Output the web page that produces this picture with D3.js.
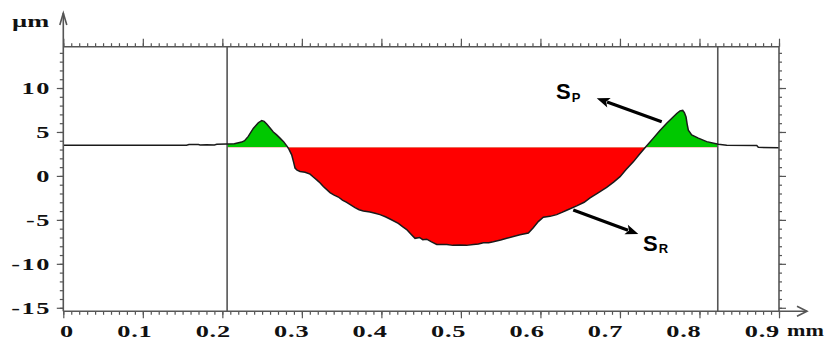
<!DOCTYPE html>
<html><head><meta charset="utf-8">
<script src="https://cdn.jsdelivr.net/npm/d3@7"></script>
<style>body{margin:0;background:#fff;overflow:hidden}</style>
</head><body>
<svg id="c" width="829" height="340"></svg>
<script>
// ---- data ----
const profileX = [0,0.05,0.10,0.155,0.158,0.17,0.172,0.18,0.19,0.193,0.2055,0.215,0.2243,0.228,0.2326,0.2389,0.2452,0.2495,0.2525,0.2558,0.26,0.2641,0.268,0.2725,0.277,0.2817,0.284,0.2872,0.2895,0.2914,0.294,0.2977,0.304,0.3103,0.314,0.3187,0.323,0.327,0.3354,0.34,0.3459,0.351,0.3564,0.3668,0.372,0.3773,0.3857,0.392,0.3983,0.405,0.4108,0.4213,0.427,0.4318,0.437,0.4423,0.448,0.452,0.457,0.463,0.4696,0.4822,0.49,0.4989,0.507,0.5156,0.522,0.5282,0.535,0.5407,0.55,0.5576,0.566,0.5743,0.5848,0.591,0.5973,0.6036,0.612,0.6205,0.627,0.633,0.6456,0.655,0.6624,0.672,0.6833,0.692,0.7001,0.708,0.7168,0.724,0.7315,0.742,0.75,0.7588,0.7714,0.7755,0.7789,0.781,0.7831,0.7845,0.786,0.7902,0.7986,0.8091,0.8237,0.8343,0.872,0.874,0.9];
const profileY = [3.5,3.5,3.5,3.5,3.58,3.58,3.52,3.55,3.52,3.6,3.62,3.65,3.85,4.0,4.5,5.4,6.05,6.3,6.2,5.9,5.45,5.0,4.7,4.3,3.9,3.33,3.0,2.4,1.6,0.9,0.65,0.5,0.42,0.2,-0.1,-0.45,-0.8,-1.2,-1.9,-2.15,-2.4,-2.75,-3.0,-3.6,-3.85,-4.0,-4.1,-4.25,-4.4,-4.65,-4.9,-5.4,-5.8,-6.1,-6.6,-7.1,-7.0,-7.25,-7.2,-7.5,-7.8,-7.8,-7.9,-7.85,-7.9,-7.8,-7.75,-7.6,-7.6,-7.5,-7.3,-7.1,-6.9,-6.7,-6.5,-5.9,-5.2,-4.7,-4.6,-4.4,-4.15,-3.9,-3.4,-3.0,-2.5,-1.95,-1.3,-0.7,-0.08,0.75,1.6,2.4,3.2,4.3,5.15,6.0,7.1,7.4,7.45,7.2,6.7,5.9,5.2,4.66,4.3,3.9,3.6,3.5,3.45,3.25,3.2];
const baseline = 3.25;
const cursorX = [0.206, 0.823];
const xTickValues = [0,0.1,0.2,0.3,0.4,0.5,0.6,0.7,0.8,0.9];
const xTickLabels = ["0","0.1","0.2","0.3","0.4","0.5","0.6","0.7","0.8","0.9"];
const yTickValues = [-15,-10,-5,0,5,10];
const yTickLabels = ["-15","-10","-5","0","5","10"];
const xUnit = "mm", yUnit = "\u00b5m";
const labelSP = ["S","P"], labelSR = ["S","R"];

// ---- scales ----
const svg = d3.select("#c");
const x = d3.scaleLinear().domain([0,0.9]).range([63.3,779]);
const y = d3.scaleLinear().domain([-15.4,14.7]).range([311.3,46.7]);
const xLab = d3.scaleLinear().domain([0,0.9]).range([74,780]);
const data = profileX.map((v,i)=>({x:v,y:profileY[i]}));

const defs = svg.append("defs");
defs.append("clipPath").attr("id","above").append("rect")
  .attr("x",x(cursorX[0])).attr("width",x(cursorX[1])-x(cursorX[0]))
  .attr("y",y.range()[1]).attr("height",y(baseline)-y.range()[1]);
defs.append("clipPath").attr("id","below").append("rect")
  .attr("x",x(cursorX[0])).attr("width",x(cursorX[1])-x(cursorX[0]))
  .attr("y",y(baseline)).attr("height",y.range()[0]-y(baseline));

const area = d3.area().x(d=>x(d.x)).y0(y(baseline)).y1(d=>y(d.y));
svg.append("path").datum(data).attr("d",area).attr("fill","#00c800").attr("clip-path","url(#above)");
svg.append("path").datum(data).attr("d",area).attr("fill","#ff0000").attr("clip-path","url(#below)");

// cursors
svg.selectAll(".cur").data(cursorX).enter().append("line")
  .attr("x1",d=>x(d)).attr("x2",d=>x(d)).attr("y1",y.range()[1]).attr("y2",y.range()[0])
  .attr("stroke","#555").attr("stroke-width",1.6);

// profile
svg.append("path").datum(data).attr("d",d3.line().x(d=>x(d.x)).y(d=>y(d.y)))
  .attr("fill","none").attr("stroke","#1a1a1a").attr("stroke-width",1.5);

// axes ticks
const xMinor = d3.range(0,91).map(i=>i/100);
const yMinor = d3.range(-15,15);
function styl(g){g.select(".domain").remove();g.selectAll("line").attr("stroke","#555").attr("stroke-width",1.2);}
svg.append("g").attr("transform",`translate(0,${y.range()[0]})`).call(d3.axisBottom(x).tickValues(xMinor).tickSize(3.5).tickFormat("")).call(styl);
svg.append("g").attr("transform",`translate(0,${y.range()[0]})`).call(d3.axisBottom(x).tickValues(xTickValues).tickSize(7).tickFormat("")).call(styl);
svg.append("g").attr("transform",`translate(0,${y.range()[1]})`).call(d3.axisTop(x).tickValues(xMinor).tickSize(3.5).tickFormat("")).call(styl);
svg.append("g").attr("transform",`translate(0,${y.range()[1]})`).call(d3.axisTop(x).tickValues(xTickValues).tickSize(8).tickFormat("")).call(styl);
svg.append("g").attr("transform",`translate(${x.range()[0]},0)`).call(d3.axisLeft(y).tickValues(yMinor).tickSize(3.5).tickFormat("")).call(styl);
svg.append("g").attr("transform",`translate(${x.range()[0]},0)`).call(d3.axisLeft(y).tickValues(yTickValues).tickSize(6.5).tickFormat("")).call(styl);
svg.append("g").attr("transform",`translate(${x.range()[1]},0)`).call(d3.axisRight(y).tickValues(yMinor).tickSize(3).tickFormat("")).call(styl);
svg.append("g").attr("transform",`translate(${x.range()[1]},0)`).call(d3.axisRight(y).tickValues(yTickValues).tickSize(7).tickFormat("")).call(styl);

// frame lines & arrows
const ax = svg.append("g").attr("stroke","#555").attr("stroke-width",1.6).attr("fill","none");
const x0=x.range()[0], x1=x.range()[1], yb=y.range()[0], yt=y.range()[1];
ax.append("line").attr("x1",x0).attr("x2",x1).attr("y1",yt).attr("y2",yt);
ax.append("line").attr("x1",x1).attr("x2",x1).attr("y1",yt).attr("y2",yb);
ax.append("line").attr("x1",x0).attr("x2",x1+28).attr("y1",yb).attr("y2",yb);
ax.append("line").attr("x1",x0).attr("x2",x0).attr("y1",yb).attr("y2",13);
ax.append("path").attr("d",`M${x1+18},${yb-5}L${x1+28},${yb}L${x1+18},${yb+5}`);
ax.append("path").attr("d",`M${x0-3.5},${25}L${x0},${13}L${x0+3.5},${25}`);

// labels
const F = "Liberation Serif";
function lbl(tx,ty,t,anchor,ls,sx){
  svg.append("text").attr("font-family",F).attr("font-weight","bold").attr("font-size",17).attr("fill","#111")
    .attr("text-anchor",anchor).attr("letter-spacing",ls)
    .attr("transform",`translate(${tx},${ty}) scale(${sx},1)`).text(t);
}
xTickValues.forEach((v,i)=>lbl(xLab(v),337,xTickLabels[i],"end",0.5,1.55));
yTickValues.forEach((v,i)=>lbl(51,y(v)+6,yTickLabels[i],"end",1,1.55));
lbl(12,27,yUnit,"start",0,1.55);
lbl(787,336,xUnit,"start",0,1.3);

// annotations
function arrow(fx,fy,tx,ty){
  const ax1=x(fx), ay1=y(fy), ax2=x(tx), ay2=y(ty);
  const ang=Math.atan2(ay2-ay1,ax2-ax1), L=13, W=5;
  const bx=ax2-L*Math.cos(ang), by=ay2-L*Math.sin(ang);
  svg.append("line").attr("x1",ax1).attr("y1",ay1).attr("x2",bx+2*Math.cos(ang)).attr("y2",by+2*Math.sin(ang))
    .attr("stroke","#000").attr("stroke-width",3.2);
  svg.append("path").attr("fill","#000").attr("d",
    `M${ax2},${ay2}L${bx+W*Math.sin(ang)},${by-W*Math.cos(ang)}L${bx+3*Math.cos(ang)},${by+3*Math.sin(ang)}L${bx-W*Math.sin(ang)},${by+W*Math.cos(ang)}Z`);
}
arrow(0.7525,6.17,0.6708,8.83);
arrow(0.6413,-3.88,0.7231,-6.61);
function sLabel(px,py,t){
  const tx = svg.append("text").attr("x",x(px)).attr("y",y(py))
    .attr("font-family","Liberation Sans").attr("font-weight","bold").attr("fill","#000");
  tx.append("tspan").attr("font-size",22).text(t[0]);
  tx.append("tspan").attr("font-size",13).attr("dy",2.5).attr("dx",1).text(t[1]);
}
sLabel(0.6195,8.75,labelSP);
sLabel(0.7291,-8.5,labelSR);
</script>
</body></html>
